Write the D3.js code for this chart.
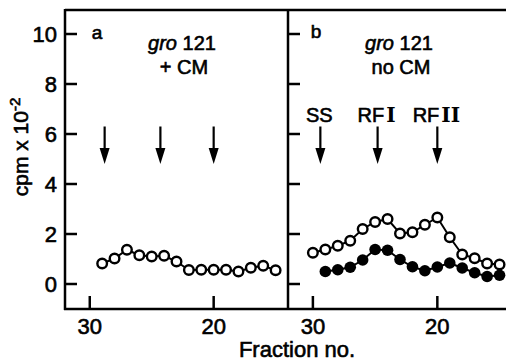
<!DOCTYPE html>
<html>
<head>
<meta charset="utf-8">
<title>gro 121</title>
<style>
  * { margin: 0; padding: 0; }
  body { background: #fff; }
  svg { display: block; font-family: "Liberation Sans", Arial, sans-serif; }
  svg text { stroke: #000; stroke-width: 0.6px; }
  .roman { font-family: "DejaVu Serif", "Liberation Serif", serif; font-weight: bold; stroke-width: 0; }
</style>
<script src="https://cdn.jsdelivr.net/npm/d3@7"></script>
</head>
<body>
<svg id="chart" width="506" height="363"></svg>
<script>
// fractions
const fracA = [29, 28, 27, 26, 25, 24, 23, 22, 21, 20, 19, 18, 17, 16, 15];
const openA = [0.82, 1.02, 1.37, 1.15, 1.1, 1.13, 0.9, 0.56, 0.57, 0.57, 0.57, 0.5, 0.65, 0.73, 0.55];

const fracBopen = [30, 29, 28, 27, 26, 25, 24, 23, 22, 21, 20, 19, 18, 17, 16, 15];
const openB = [1.25, 1.38, 1.53, 1.73, 2.2, 2.48, 2.6, 2.02, 2.07, 2.37, 2.66, 1.87, 1.18, 1.03, 0.82, 0.78];
const fracBfill = [29, 28, 27, 26, 25, 24, 23, 22, 21, 20, 19, 18, 17, 16, 15];
const fillB = [0.5, 0.57, 0.67, 0.96, 1.38, 1.35, 0.98, 0.69, 0.53, 0.68, 0.84, 0.64, 0.45, 0.3, 0.35];

const arrowsA = [28.8, 24.3, 20.0];
const arrowsB = [29.4, 24.8, 20.0];
// label prefix + roman numeral
const arrowLabelsB = [["SS", ""], ["RF", "I"], ["RF", "II"]];

const yTicks = [0, 2, 4, 6, 8, 10];
const xTicks = [30, 20];

const svg = d3.select("#chart");
const plotTop = 10, plotBottom = 309;

const y = d3.scaleLinear().domain([-1, 11]).range([plotBottom, 9]);
const xA = d3.scaleLinear().domain([32, 14]).range([65, 288]);
const xB = d3.scaleLinear().domain([32, 14]).range([288, 512]);

// frame
const frame = svg.append("g").attr("stroke", "#000").attr("stroke-width", 2.5).attr("fill", "none");
frame.append("line").attr("x1", 65).attr("x2", 506).attr("y1", plotTop).attr("y2", plotTop);
frame.append("line").attr("x1", 65).attr("x2", 65).attr("y1", plotTop - 1).attr("y2", plotBottom + 1);
frame.append("line").attr("x1", 288).attr("x2", 288).attr("y1", plotTop - 1).attr("y2", plotBottom + 1);
frame.append("line").attr("x1", 64).attr("x2", 506).attr("y1", plotBottom).attr("y2", plotBottom);

// y ticks (inward)
[65, 288].forEach((x0, i) => {
  const g = svg.append("g");
  yTicks.forEach(t => {
    g.append("line").attr("x1", x0).attr("x2", x0 + 12)
      .attr("y1", y(t)).attr("y2", y(t))
      .attr("stroke", "#000").attr("stroke-width", 2.5);
    if (i === 0) {
      g.append("text").attr("x", 57).attr("y", y(t)).attr("dy", "0.36em")
        .attr("text-anchor", "end").attr("font-size", 22).text(t);
    }
  });
});

// x ticks (inward, up)
[xA, xB].forEach(x => {
  xTicks.forEach(t => {
    svg.append("line").attr("x1", x(t)).attr("x2", x(t))
      .attr("y1", plotBottom).attr("y2", plotBottom - 13)
      .attr("stroke", "#000").attr("stroke-width", 2.5);
    svg.append("text").attr("x", x(t)).attr("y", 334)
      .attr("text-anchor", "middle").attr("font-size", 22).text(t);
  });
});

// axis titles
svg.append("text").attr("x", 297).attr("y", 357).attr("text-anchor", "middle")
  .attr("font-size", 22).text("Fraction no.");
const yl = svg.append("text").attr("transform", "translate(28,147) rotate(-90)")
  .attr("text-anchor", "middle").attr("font-size", 21);
yl.append("tspan").text("cpm x 10");
yl.append("tspan").attr("font-size", 15).attr("dy", -8).text("-2");

// panel texts
svg.append("text").attr("x", 97).attr("y", 39).attr("text-anchor", "middle").attr("font-size", 19).text("a");
svg.append("text").attr("x", 316).attr("y", 38).attr("text-anchor", "middle").attr("font-size", 19).text("b");

function title(cx, line2) {
  const t = svg.append("text").attr("x", cx).attr("y", 50).attr("text-anchor", "middle").attr("font-size", 20);
  t.append("tspan").attr("font-style", "italic").text("gro ");
  t.append("tspan").text("121");
  svg.append("text").attr("x", cx + 2).attr("y", 74).attr("text-anchor", "middle")
    .attr("font-size", 20).text(line2);
}
title(182, "+ CM");
title(399, "no CM");

// arrows
function arrows(x, list, labels) {
  list.forEach((f, i) => {
    const ax = x(f), y0 = y(6.3), y1 = y(4.8);
    svg.append("line").attr("x1", ax).attr("x2", ax).attr("y1", y0).attr("y2", y1 - 10)
      .attr("stroke", "#000").attr("stroke-width", 2.2);
    svg.append("path").attr("d", `M${ax - 5},${y1 - 16}L${ax + 5},${y1 - 16}L${ax},${y1}Z`).attr("fill", "#000");
    if (labels) {
      const t = svg.append("text").attr("x", ax - 1).attr("y", 122).attr("text-anchor", "middle")
        .attr("font-size", 20);
      t.append("tspan").text(labels[i][0]);
      if (labels[i][1]) t.append("tspan").attr("class", "roman").attr("dx", 2).text(labels[i][1]);
    }
  });
}
arrows(xA, arrowsA);
arrows(xB, arrowsB, arrowLabelsB);

// series
function series(x, fr, vals, filled) {
  const pts = fr.map((f, i) => [x(f), y(vals[i])]);
  svg.append("path").attr("d", d3.line()(pts)).attr("fill", "none")
    .attr("stroke", "#000").attr("stroke-width", 2);
  svg.append("g").selectAll("circle").data(pts).join("circle")
    .attr("cx", d => d[0]).attr("cy", d => d[1])
    .attr("r", filled ? 5.8 : 4.8)
    .attr("fill", filled ? "#000" : "#fff")
    .attr("stroke", "#000").attr("stroke-width", filled ? 0 : 2.4);
}
series(xA, fracA, openA, false);
series(xB, fracBfill, fillB, true);
series(xB, fracBopen, openB, false);
</script>
</body>
</html>
